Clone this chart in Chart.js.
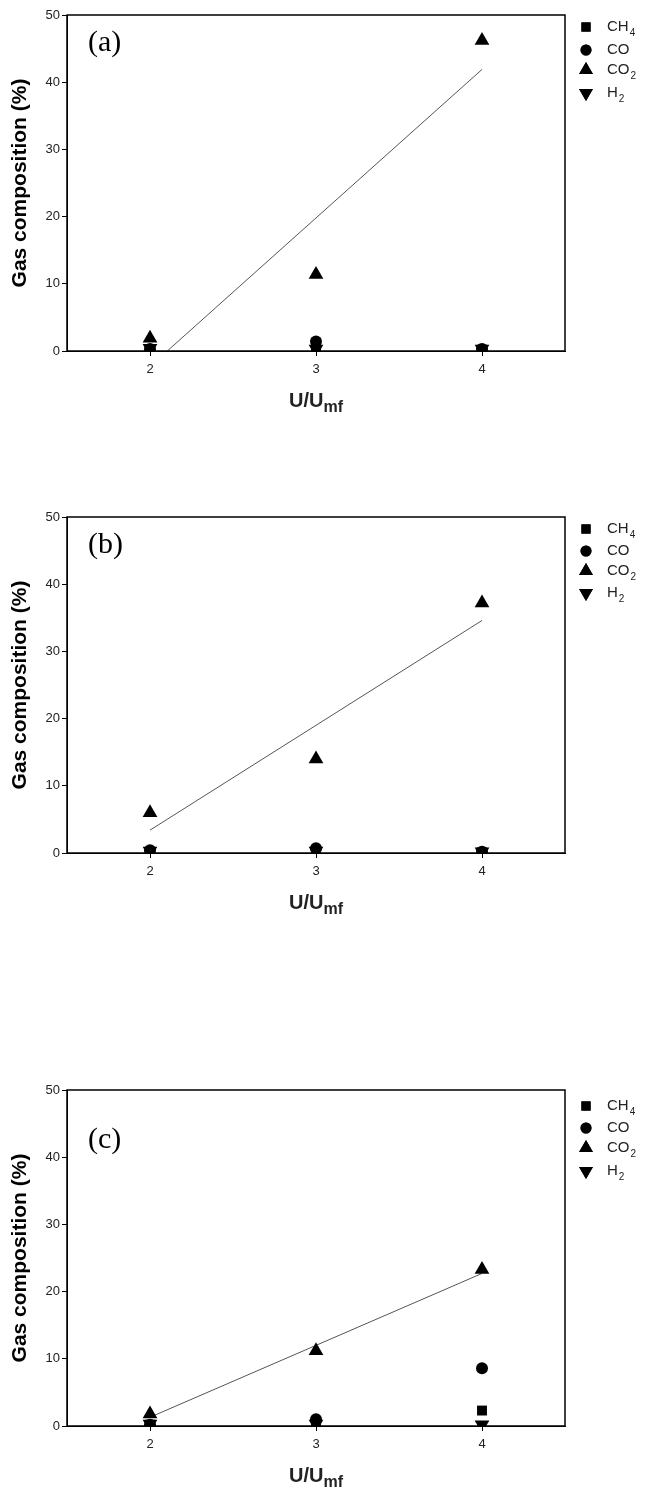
<!DOCTYPE html>
<html>
<head>
<meta charset="utf-8">
<script src="https://cdn.jsdelivr.net/npm/chart.js@4.4.1/dist/chart.umd.min.js"></script>
<style>
  html, body { margin: 0; padding: 0; background: #fff; }
  body { width: 646px; height: 1499px; position: relative; overflow: hidden; }
  .panel { position: absolute; left: 0; width: 646px; height: 440px; }
</style>
</head>
<body>
<div class="panel" style="top:0px"><canvas id="chartA" width="646" height="440"></canvas></div>
<div class="panel" style="top:502px"><canvas id="chartB" width="646" height="440"></canvas></div>
<div class="panel" style="top:1075px"><canvas id="chartC" width="646" height="440"></canvas></div>
<script>
// ---------------------------------------------------------------
// data
// ---------------------------------------------------------------
const xValues = [2, 3, 4];          // U/Umf
const xTicks = [2, 3, 4];
const yTicks = [0, 10, 20, 30, 40, 50];

// legend text: base + subscript
const gasBase = ["CH", "CO", "CO", "H"];
const gasSub = ["4", "", "2", "2"];

// panel (a)
const ch4A = [0.2, 0.4, 0.2];
const coA = [0.3, 1.4, 0.3];
const co2A = [1.9, 11.4, 46.2];
const h2A = [0.4, 0.3, 0.3];
// panel (b)
const ch4B = [0.2, 0.3, 0.1];
const coB = [0.4, 0.7, 0.2];
const co2B = [6.0, 14.0, 37.2];
const h2B = [0.3, 0.3, 0.2];
// panel (c)
const ch4C = [0.2, 0.4, 2.3];
const coC = [0.2, 1.0, 8.6];
const co2C = [1.8, 11.2, 23.3];
const h2C = [0.3, 0.3, 0.2];

// CO2 trend lines (end points at x = 2 and x = 4)
const fitX = [2, 4];
const fitA = [-2.3, 41.9];
const fitB = [3.4, 34.6];
const fitC = [1.3, 22.7];

// ---------------------------------------------------------------
// styles
// ---------------------------------------------------------------
const markerStyles = [
  { pointStyle: "rect", radius: 7, rotation: 0 },
  { pointStyle: "circle", radius: 6, rotation: 0 },
  { pointStyle: "triangle", radius: 8.5, rotation: 0 },
  { pointStyle: "triangle", radius: 8.5, rotation: 180 }
];
const SANS = "'Liberation Sans', Arial, sans-serif";
const SERIF = "'Liberation Serif', 'Times New Roman', serif";

function toPoints(ys, xs) {
  return ys.map((y, i) => ({ x: (xs || xValues)[i], y }));
}

// frame, legend, panel letter and axis titles
const decoPlugin = {
  id: "deco",
  afterDraw(chart, args, opts) {
    const { ctx, chartArea } = chart;
    const { left, right, top, bottom } = chartArea;
    ctx.save();

    // box around plot
    ctx.strokeStyle = "#000";
    ctx.lineWidth = 1.5;
    ctx.strokeRect(left, top, right - left, bottom - top);

    // panel letter
    ctx.fillStyle = "#000";
    ctx.font = "30px " + SERIF;
    ctx.textAlign = "left";
    ctx.textBaseline = "middle";
    ctx.fillText(opts.letter, 88, top + opts.letterDy);

    // legend
    gasBase.forEach((base, i) => {
      const y = top + opts.legendRows[i];
      const m = markerStyles[i];
      ctx.fillStyle = "#000";
      Chart.helpers.drawPoint(ctx, {
        pointStyle: m.pointStyle, radius: m.radius - 0.5, rotation: m.rotation,
        borderWidth: 0
      }, 586, y);
      ctx.fill();
      ctx.fillStyle = "#222";
      ctx.font = "15px " + SANS;
      ctx.textBaseline = "middle";
      ctx.textAlign = "left";
      ctx.fillText(base, 607, y);
      if (gasSub[i]) {
        const w = ctx.measureText(base).width;
        ctx.font = "10px " + SANS;
        ctx.fillText(gasSub[i], 607 + w + 1, y + 6);
      }
    });

    // y title
    ctx.save();
    ctx.translate(20, (top + bottom) / 2);
    ctx.rotate(-Math.PI / 2);
    ctx.fillStyle = "#000";
    ctx.font = "bold 21px " + SANS;
    ctx.textAlign = "center";
    ctx.textBaseline = "middle";
    ctx.fillText("Gas composition (%)", 0, 0);
    ctx.restore();

    // x title U/Umf
    ctx.font = "bold 20px " + SANS;
    const wMain = ctx.measureText("U/U").width;
    ctx.font = "bold 16px " + SANS;
    const wSub = ctx.measureText("mf").width;
    const x0 = (left + right) / 2 - (wMain + wSub) / 2;
    const yb = bottom + 56;
    ctx.textAlign = "left";
    ctx.textBaseline = "alphabetic";
    ctx.font = "bold 20px " + SANS;
    ctx.fillText("U/U", x0, yb);
    ctx.font = "bold 16px " + SANS;
    ctx.fillText("mf", x0 + wMain, yb + 5);

    ctx.restore();
  }
};

function makePanel(id, letter, letterDy, legendRows, series, fit) {
  const datasets = series.map((ys, i) => ({
    data: toPoints(ys),
    pointStyle: markerStyles[i].pointStyle,
    pointRadius: markerStyles[i].radius,
    pointRotation: markerStyles[i].rotation,
    backgroundColor: "#000",
    borderColor: "#000",
    borderWidth: 0,
    showLine: false
  }));
  datasets.push({
    data: toPoints(fit, fitX),
    showLine: true,
    borderColor: "#555",
    borderWidth: 1,
    pointRadius: 0
  });

  const tickFont = { family: SANS, size: 13 };
  new Chart(document.getElementById(id).getContext("2d"), {
    type: "scatter",
    data: { datasets },
    options: {
      responsive: false,
      animation: false,
      layout: { padding: { top: 15, right: 81, left: 0, bottom: 0 } },
      plugins: {
        legend: { display: false },
        tooltip: { enabled: false },
        deco: { letter, letterDy, legendRows }
      },
      scales: {
        x: {
          type: "linear",
          min: 1.5,
          max: 4.5,
          afterBuildTicks: s => { s.ticks = xTicks.map(v => ({ value: v })); },
          afterFit: s => { s.height = 89; },
          grid: { drawOnChartArea: false, drawTicks: true, tickLength: 5, color: "#000" },
          border: { color: "#000", width: 1 },
          ticks: { font: tickFont, color: "#222", padding: 6 }
        },
        y: {
          type: "linear",
          min: 0,
          max: 50,
          afterBuildTicks: s => { s.ticks = yTicks.map(v => ({ value: v })); },
          afterFit: s => { s.width = 67; },
          grid: { drawOnChartArea: false, drawTicks: true, tickLength: 5, color: "#000" },
          border: { color: "#000", width: 1 },
          ticks: { font: tickFont, color: "#222", padding: 2 }
        }
      }
    },
    plugins: [decoPlugin]
  });
}

makePanel("chartA", "(a)", 28, [12, 35, 55, 78], [ch4A, coA, co2A, h2A], fitA);
makePanel("chartB", "(b)", 28, [12, 34, 54, 76], [ch4B, coB, co2B, h2B], fitB);
makePanel("chartC", "(c)", 50, [16, 38, 58, 81], [ch4C, coC, co2C, h2C], fitC);
</script>
</body>
</html>
